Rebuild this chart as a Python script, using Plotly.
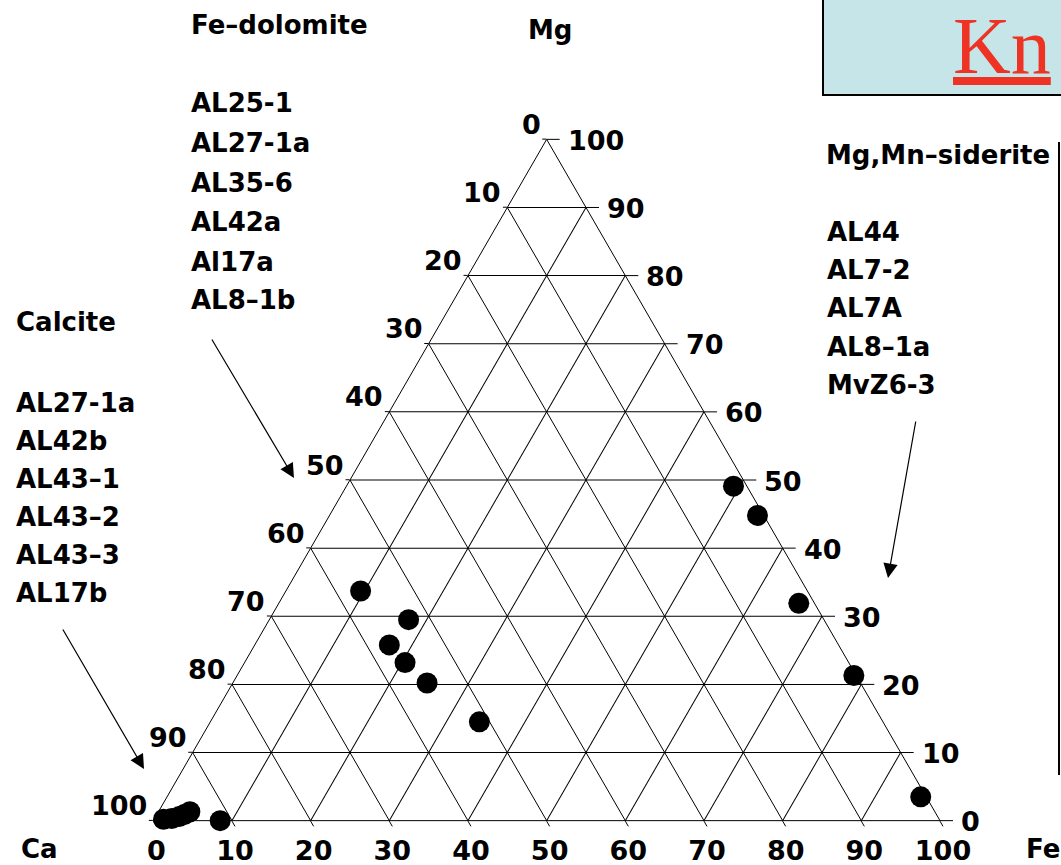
import math
import plotly.graph_objects as go

W, H = 1061, 865

# ---- data (percent Mg, Ca, Fe) ----
calcite_mg = [0.2, 0.3, 0.6, 0.9, 1.3, 0.0]
calcite_fe = [1.2, 2.2, 3.0, 3.5, 4.0, 8.5]

dolomite_mg = [33.7, 29.5, 25.8, 23.2, 20.2, 14.5]
dolomite_fe = [9.5, 17.7, 17.1, 20.4, 24.7, 34.2]

siderite_mg = [49.1, 44.8, 31.9, 21.3, 3.5]
siderite_fe = [49.2, 54.4, 66.1, 78.4, 95.8]

tick_vals = [0, 10, 20, 30, 40, 50, 60, 70, 80, 90, 100]
fe_tick_text = [str(100 - v) for v in tick_vals]   # bottom edge (b-axis value v -> Fe = 100 - v)
ca_tick_text = [str(100 - v) for v in tick_vals]   # left edge: Ca at Mg = v
mg_tick_text = [str(v) for v in tick_vals]         # right edge: Mg at Mg = v

dolomite_samples = ["AL25-1", "AL27-1a", "AL35-6", "AL42a", "Al17a", "AL8–1b"]
calcite_samples = ["AL27-1a", "AL42b", "AL43–1", "AL43–2", "AL43–3", "AL17b"]
siderite_samples = ["AL44", "AL7-2", "AL7A", "AL8–1a", "MvZ6-3"]


def ca_of(mg, fe):
    return [100 - m - f for m, f in zip(mg, fe)]


FONT = "DejaVu Sans"
LABEL_SIZE = 27

fig = go.Figure()
for mg, fe in [(calcite_mg, calcite_fe), (dolomite_mg, dolomite_fe), (siderite_mg, siderite_fe)]:
    fig.add_trace(go.Scatterternary(
        a=mg, b=ca_of(mg, fe), c=fe, mode="markers",
        marker=dict(size=21, color="black", line=dict(width=0)),
        cliponaxis=False, showlegend=False, hoverinfo="skip"))


def axis(ticklen, show_labels, ticktext=None):
    d = dict(
        min=0, tickmode="array", tickvals=tick_vals,
        ticks="outside" if ticklen else "", ticklen=ticklen, tickcolor="black", tickwidth=1,
        showticklabels=show_labels,
        tickfont=dict(family=FONT, size=LABEL_SIZE, color="black", weight="bold"),
        showgrid=True, gridcolor="black", gridwidth=1,
        linecolor="black", linewidth=1, showline=True, title=dict(text=""))
    if ticktext is not None:
        d["ticktext"] = ticktext
    return d


# ternary subplot placement (pixels of the 1061x865 page)
dom_l, dom_r, dom_t, dom_b = 153.3, 940.0, 138.3, 821.7
x0d, x1d = dom_l / W, dom_r / W
y0d, y1d = 1 - dom_b / H, 1 - dom_t / H

fig.update_layout(
    width=W, height=H, margin=dict(l=0, r=0, t=0, b=0),
    paper_bgcolor="white", plot_bgcolor="white",
    ternary=dict(
        sum=100, bgcolor="white",
        domain=dict(x=[x0d, x1d], y=[y0d, y1d]),
        aaxis=axis(4, False),
        baxis=axis(6, True, fe_tick_text),
        caxis=axis(0, False)),
)

# geometry of the triangle as plotly lays it out (width-limited, centred vertically)
tri_w = dom_r - dom_l
tri_h = tri_w * math.sqrt(3) / 2
tri_bottom = (dom_t + dom_b) / 2 + tri_h / 2


def tern_px(mg, fe):
    """pixel position of a ternary point (Mg, Fe in percent)."""
    return dom_l + (fe + mg / 2) / 100 * tri_w, tri_bottom - mg / 100 * tri_h


def px(x, y):
    return x / W, 1 - y / H


annotations = []
shapes = []


def text(t, x, y, size=26, xanchor="left", yanchor="middle", color="black",
         family=FONT, bold=True):
    xp, yp = px(x, y)
    annotations.append(dict(
        text=t, x=xp, y=yp, xref="paper", yref="paper", xanchor=xanchor,
        yanchor=yanchor, showarrow=False, borderpad=0,
        font=dict(family=family, size=size, color=color, weight="bold" if bold else "normal")))


# right-edge Mg ticks: horizontal extensions of the grid lines, labels level with them
for v, t in zip(tick_vals, mg_tick_text):
    ex, ey = tern_px(v, 100 - v)
    x0p, y0p = px(ex, ey)
    x1p, _ = px(ex + 13, ey)
    shapes.append(dict(type="line", xref="paper", yref="paper", x0=x0p, x1=x1p,
                       y0=y0p, y1=y0p, line=dict(color="black", width=1)))
    text(t, ex + 20, ey + 1, size=LABEL_SIZE)

# left-edge Ca labels, above-left of each grid node
for v, t in zip(tick_vals, ca_tick_text):
    ex, ey = tern_px(v, 0)
    text(t, ex - 5, ey - 15, size=LABEL_SIZE, xanchor="right")

text("Fe–dolomite", 190, 25)
for s, y in zip(dolomite_samples, [103, 143, 183, 222, 262, 300]):
    text(s, 190, y)
text("Mg", 550, 30, xanchor="center")
text("Calcite", 15, 322)
for s, y in zip(calcite_samples, [403, 441, 479, 517, 555, 593]):
    text(s, 15, y)
text("Mg,Mn–siderite", 825, 155)
for s, y in zip(siderite_samples, [232, 270, 308, 347, 385]):
    text(s, 826, y)
text("Ca", 20, 865, yanchor="bottom")
text("Fe", 1061, 865, xanchor="right", yanchor="bottom")
text("<u>Kn</u>", 952, 1, size=80, xanchor="left", yanchor="top", color="#ee3224",
     family="Liberation Serif", bold=False)


def arrow(hx, hy, tx, ty):
    xp, yp = px(hx, hy)
    annotations.append(dict(
        text="", x=xp, y=yp, xref="paper", yref="paper", showarrow=True,
        ax=tx - hx, ay=ty - hy, arrowhead=2, arrowsize=2.4, arrowwidth=1.2,
        arrowcolor="black", standoff=0, startstandoff=0))


arrow(294, 478, 211, 338)
arrow(144, 769, 62, 628)
arrow(888, 578, 916, 420)

bx0, by1 = px(823, 95)
shapes.append(dict(type="rect", xref="paper", yref="paper", x0=bx0, x1=1.05, y0=by1, y1=1.05,
                   fillcolor="#c5e5e8", line=dict(color="black", width=2), layer="below"))
lx, ly0 = px(1059, 142)
_, ly1 = px(1059, 775)
shapes.append(dict(type="line", xref="paper", yref="paper", x0=lx, x1=lx, y0=ly0, y1=ly1,
                   line=dict(color="black", width=2)))

fig.update_layout(annotations=annotations, shapes=shapes)

fig.write_html("out.html")
